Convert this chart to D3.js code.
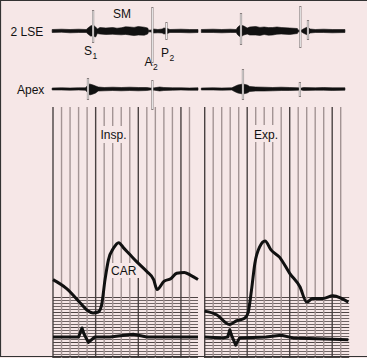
<!DOCTYPE html>
<html>
<head>
<meta charset="utf-8">
<script src="https://cdn.jsdelivr.net/npm/d3@7"></script>
<style>
body { margin: 0; background: #fff; }
svg { display: block; }
text { font-family: "Liberation Sans", Arial, sans-serif; fill: #111; }
</style>
</head>
<body>
<div id="chart"></div>
<script>
// time in grid divisions, one panel per breathing phase
var phases = ["Insp.", "Exp."];
var gridCols = [0, 1, 2, 3, 4, 5, 6, 7, 8, 9, 10, 11, 12, 13, 14, 15, 16];
var gridRows = [0, 1, 2, 3, 4, 5, 6, 7, 8, 9, 10, 11, 12, 13, 14, 15, 16, 17, 18, 19, 20];

// phonocardiogram envelopes: [time, upper amplitude, lower amplitude]
var lseInsp = [[-0.1,1.5,1.5],[1,1.8,1.2],[2,1.5,1.8],[3,1.8,1.5],[3.9,1.5,1.5],[4.1,3,3],[4.4,5,5],[4.7,6,5],[5.0,4,6],[5.2,2,2.5],[5.5,3.5,3],[6.2,3,3.5],[7,3.5,3.2],[7.5,2.8,3.6],[8,3.2,3.8],[8.5,4.2,3.4],[9,4,4],[9.5,3.6,4.6],[10,4.5,4],[10.7,3.8,4.2],[11.1,3,3],[11.2,0.8,0.8],[11.5,1,1],[11.8,2,2],[12.3,1.5,1.8],[12.8,2,2],[13.0,3,3],[13.4,2.5,2.5],[13.7,1.5,1.5],[15,1.8,1.5],[16,1.5,1.8],[17,1.5,1.5]];
var lseExp = [[-0.4,1.5,1.5],[1,1.8,1.5],[2,1.5,1.8],[3,1.8,1.5],[3.7,1.5,1.5],[3.9,4,4],[4.2,6,6],[4.6,5,4],[5.0,3,3],[5.3,4,4],[6,4.5,4],[6.5,3.6,4.4],[7,4,3.5],[7.5,3.4,4.2],[8,3.5,4],[8.5,4,3.2],[9,3.5,3],[10,3,3.5],[10.9,2.5,2.5],[11.0,0.8,0.8],[11.4,1,1],[11.7,2.5,2.5],[12.1,4,4],[12.4,2,2],[13,1.5,1.5],[14,1.8,1.5],[15,1.5,1.8],[16.5,1.5,1.5]];
var apexInsp = [[-0.1,1,1],[1,1.2,1],[2,1,1.2],[3,1.2,1],[3.8,1.2,1.2],[4.0,3,3],[4.3,5,6],[4.7,4,5],[5.0,3,4],[5.3,2,2],[6,1.5,1.8],[7,1.8,1.5],[8,1.5,1.8],[9,1.8,1.5],[10,1.5,1.8],[11,1.5,1.5],[11.4,1,1],[11.9,1.2,1.2],[12.5,2,2],[13,1.5,1.5],[14,1.2,1.2],[15,1.2,1.0],[16,1,1.2],[17,1.2,1.2]];
var apexExp = [[-0.4,1,1],[1,1.2,1],[2,1,1.2],[3.2,1.2,1],[3.5,2.5,2.5],[3.9,4,4],[4.5,5,5],[5.0,4,4],[5.3,2.5,2.5],[6,2,2],[7,1.8,2],[8,1.5,1.8],[9,1.8,1.5],[10,1.5,1.5],[11,1.2,1.2],[11.3,0.8,0.8],[11.6,1.5,1.5],[13,1.2,1.2],[14,1.5,1.2],[15,1.2,1.5],[16.5,1.2,1.2]];

// sharp sound spikes: [time, up, down]
var lseSpikesInsp = [[4.7,21,12],[11.65,24,32],[13.3,9,9]];
var lseSpikesExp = [[4.27,18,14],[11.25,25,17],[12.15,11,9]];
var apexSpikesInsp = [[4.1,11,11],[11.65,9,21]];
var apexSpikesExp = [[4.5,20,11],[11.2,7,8]];

// carotid pulse: [time, level]
var carInsp = [[0,56],[1.6,46],[3.2,30],[4.0,22],[4.7,19],[5.3,20],[5.7,28],[6.1,56],[6.5,78],[7.1,91],[7.7,97],[8.3,91],[9.1,83],[9.8,76],[11.0,65],[11.8,56],[12.2,45],[13.0,54],[13.8,57],[14.5,63],[15.4,64],[16.1,61],[17,56]];
var carExp = [[0,21],[1.4,17],[2.9,6],[3.7,10],[4.7,13],[5.1,19],[5.5,44],[5.9,74],[6.5,93],[7.1,99],[7.8,89],[8.8,81],[10.0,63],[11.2,48],[12.0,31],[12.7,35],[13.9,35],[15.1,38],[16.1,35],[16.9,31]];

// bottom trace: [time, level]
var ecgInsp = [[0,0],[3.0,0],[3.4,10],[3.65,3],[4.15,-6],[4.9,0],[6.7,0],[9.4,3],[11.0,0],[17,0]];
var ecgExp = [[0,0],[2.2,-1],[2.7,0],[2.95,8],[3.15,2],[3.65,-9],[4.1,-1],[7.2,0],[9.0,2],[10.4,-1],[16.9,-3]];

var W = 367, H = 358, bg = "#f6e7e7";
var svg = d3.select("#chart").append("svg").attr("width", W).attr("height", H);
svg.append("rect").attr("width", W).attr("height", H).attr("fill", bg);

var xs = [
  d3.scaleLinear().domain([0, 17]).range([53, 198]),
  d3.scaleLinear().domain([0, 17]).range([204.7, 349.2])
];
var yLse = d3.scaleLinear().domain([-30, 30]).range([61, 1]);
var yApex = d3.scaleLinear().domain([-30, 30]).range([119, 59]);
var yCar = d3.scaleLinear().domain([0, 100]).range([330, 240]);
var yEcg = d3.scaleLinear().domain([-10, 10]).range([346, 328]);
var yRow = d3.scaleLinear().domain([0, 20]).range([297, 357]);

// grid
xs.forEach(function(x) {
  svg.append("g").selectAll("line").data(gridRows).enter().append("line")
    .attr("x1", x(0)).attr("x2", x(17))
    .attr("y1", function(d) { return yRow(d) + 0.5; })
    .attr("y2", function(d) { return yRow(d) + 0.5; })
    .attr("stroke", function(d) { return d % 5 == 0 ? "#4e4444" : "#6f6464"; })
    .attr("stroke-width", 1);
  svg.append("g").selectAll("line").data(gridCols).enter().append("line")
    .attr("x1", function(d) { return x(d); })
    .attr("x2", function(d) { return x(d); })
    .attr("y1", 107).attr("y2", H)
    .attr("stroke", function(d) { return d % 5 == 0 ? "#4a4242" : "#a39494"; })
    .attr("stroke-width", 1.4);
});

// label patches
function patch(x, y, w, h) {
  svg.append("rect").attr("x", x).attr("y", y).attr("width", w).attr("height", h).attr("fill", bg);
}
patch(98, 126, 31, 17);
patch(251, 125, 29, 17);
patch(108, 263, 31, 15);

function label(t, x, y, size) {
  return svg.append("text").attr("x", x).attr("y", y).style("font-size", (size || 12) + "px").text(t);
}
function subLabel(t, s, x, y) {
  var main = label(t, x, y);
  var w = main.node().getComputedTextLength();
  label(s, x + w + 0.5, y + 3.5, 8.5);
}
label("2 LSE", 10.5, 35.7);
label("Apex", 17, 93.5);
label("SM", 113, 18.3);
subLabel("S", "1", 84, 55);
subLabel("A", "2", 144.5, 66);
subLabel("P", "2", 161, 57.3);
label(phases[0], 100.5, 139);
label(phases[1], 254, 138.5);
label("CAR", 111, 275);

// sound traces
function envelope(data, x, y) {
  var area = d3.area()
    .x(function(d) { return x(d[0]); })
    .y0(function(d) { return y(-d[2]); })
    .y1(function(d) { return y(d[1]); });
  svg.append("path").datum(data).attr("d", area).attr("fill", "#111")
    .attr("stroke", "#111").attr("stroke-width", 0.6);
}
function spikes(data, x, y) {
  var g = svg.append("g");
  g.selectAll(".sp").data(data).enter().append("line")
    .attr("x1", function(d) { return x(d[0]); }).attr("x2", function(d) { return x(d[0]); })
    .attr("y1", function(d) { return y(d[1]); }).attr("y2", function(d) { return y(-d[2]); })
    .attr("stroke", "#8a8080").attr("stroke-width", 2.2);
  g.selectAll(".sw").data(data).enter().append("line")
    .attr("x1", function(d) { return x(d[0]); }).attr("x2", function(d) { return x(d[0]); })
    .attr("y1", function(d) { return y(d[1]) + 1; }).attr("y2", function(d) { return y(-d[2]) - 1; })
    .attr("stroke", "#fff").attr("stroke-width", 0.9);
}
envelope(lseInsp, xs[0], yLse); envelope(lseExp, xs[1], yLse);
envelope(apexInsp, xs[0], yApex); envelope(apexExp, xs[1], yApex);
spikes(lseSpikesInsp, xs[0], yLse); spikes(lseSpikesExp, xs[1], yLse);
spikes(apexSpikesInsp, xs[0], yApex); spikes(apexSpikesExp, xs[1], yApex);

// pressure traces
function trace(data, x, y, curve) {
  var line = d3.line()
    .x(function(d) { return x(d[0]); })
    .y(function(d) { return y(d[1]); })
    .curve(curve);
  svg.append("path").datum(data).attr("d", line)
    .attr("fill", "none").attr("stroke", "#111").attr("stroke-width", 3)
    .attr("stroke-linejoin", "round");
}
trace(carInsp, xs[0], yCar, d3.curveMonotoneX);
trace(carExp, xs[1], yCar, d3.curveMonotoneX);
trace(ecgInsp, xs[0], yEcg, d3.curveLinear);
trace(ecgExp, xs[1], yEcg, d3.curveLinear);

// frame
svg.append("path").attr("d", "M" + W + ",0.5H0.5V" + (H - 1.5) + "H" + W)
  .attr("fill", "none").attr("stroke", "#333").attr("stroke-width", 1.2);
</script>
</body>
</html>
